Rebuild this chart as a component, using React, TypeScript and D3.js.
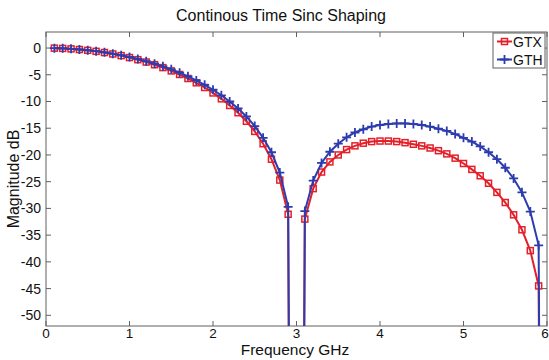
import React from "react";
import * as d3 from "d3";

const title = "Continous Time Sinc Shaping";
const xLabel = "Frequency GHz";
const yLabel = "Magnitude dB";

const freq = [
  0.1, 0.2, 0.3, 0.4, 0.5, 0.6, 0.7, 0.8, 0.9, 1.0,
  1.1, 1.2, 1.3, 1.4, 1.5, 1.6, 1.7, 1.8, 1.9, 2.0,
  2.1, 2.2, 2.3, 2.4, 2.5, 2.6, 2.7, 2.8, 2.9, 3.0,
  3.1, 3.2, 3.3, 3.4, 3.5, 3.6, 3.7, 3.8, 3.9, 4.0,
  4.1, 4.2, 4.3, 4.4, 4.5, 4.6, 4.7, 4.8, 4.9, 5.0,
  5.1, 5.2, 5.3, 5.4, 5.5, 5.6, 5.7, 5.8, 5.9, 6.0,
];

const gtx = [
  -0.02, -0.07, -0.16, -0.28, -0.43, -0.62, -0.84, -1.11, -1.42, -1.78,
  -2.18, -2.62, -3.12, -3.66, -4.28, -4.95, -5.7, -6.5, -7.38, -8.4,
  -9.5, -10.75, -12.1, -13.7, -15.6, -17.9, -20.8, -24.7, -31.1, -320,
  -32.0, -26.3, -23.2, -21.3, -20.0, -19.0, -18.3, -17.8, -17.5, -17.4,
  -17.4, -17.5, -17.7, -18.0, -18.3, -18.7, -19.2, -19.8, -20.6, -21.6,
  -22.7, -23.9, -25.3, -27.0, -28.9, -31.2, -34.0, -37.9, -44.5, -320,
];

const gth = [
  -0.02, -0.06, -0.15, -0.26, -0.41, -0.59, -0.8, -1.06, -1.35, -1.68,
  -2.05, -2.46, -2.92, -3.43, -3.99, -4.61, -5.3, -6.05, -6.88, -7.8,
  -8.84, -10.0, -11.3, -12.8, -14.6, -16.8, -19.5, -23.3, -29.7, -320,
  -30.5, -24.8, -21.5, -19.4, -17.9, -16.7, -15.8, -15.2, -14.7, -14.4,
  -14.2, -14.1, -14.1, -14.2, -14.4, -14.7, -15.1, -15.5, -16.1, -16.8,
  -17.5, -18.4, -19.5, -20.8, -22.4, -24.4, -27.0, -30.6, -36.9, -320,
];

const xTicks = [0, 1, 2, 3, 4, 5, 6];
const yTicks = [0, -5, -10, -15, -20, -25, -30, -35, -40, -45, -50];
const seriesNames = ["GTX", "GTH"];

const W = 549;
const H = 360;
const L = 46;
const R = 547;
const T = 32;
const B = 326;
const RED = "#e3202a";
const BLUE = "#2c3cae";
const AXIS = "#606060";
const FONT = "'Liberation Sans', Arial, Helvetica, sans-serif";

export default function App() {
  const x = d3.scaleLinear().domain([0, 6]).range([L, R]);
  const y = d3.scaleLinear().domain([-52, 3]).range([B, T]);

  const mk = (vals: number[]) =>
    d3
      .line<number>()
      .x((_, i) => x(freq[i]))
      .y((v) => y(v))(vals) || "";

  const visible = (v: number) => v >= -52 && v <= 3;

  return (
    <svg
      width={W}
      height={H}
      style={{ position: "absolute", left: 0, top: 0, background: "#fff" }}
      fontFamily={FONT}
    >
      <defs>
        <clipPath id="plotclip">
          <rect x={L} y={T} width={R - L} height={B - T} />
        </clipPath>
      </defs>
      <rect x={0} y={0} width={W} height={H} fill="#fff" />

      <text x={281} y={21} textAnchor="middle" fontSize={16} fill="#111">
        {title}
      </text>

      {/* frame */}
      <rect x={L} y={T} width={R - L} height={B - T} fill="none" stroke={AXIS} strokeWidth={1} />

      {/* x ticks */}
      {xTicks.map((t) => (
        <g key={"x" + t}>
          <line x1={x(t)} x2={x(t)} y1={B} y2={B - 5} stroke={AXIS} />
          <line x1={x(t)} x2={x(t)} y1={T} y2={T + 5} stroke={AXIS} />
          <text x={t === 6 ? x(t) - 2 : x(t)} y={338} textAnchor="middle" fontSize={13.5} fill="#111">
            {t}
          </text>
        </g>
      ))}
      {/* y ticks */}
      {yTicks.map((t) => (
        <g key={"y" + t}>
          <line x1={L} x2={L + 5} y1={y(t)} y2={y(t)} stroke={AXIS} />
          <line x1={R} x2={R - 5} y1={y(t)} y2={y(t)} stroke={AXIS} />
          <text x={41} y={y(t) + 5} textAnchor="end" fontSize={14} fill="#111">
            {t}
          </text>
        </g>
      ))}

      <text x={295} y={355} textAnchor="middle" fontSize={15.5} fill="#111">
        {xLabel}
      </text>
      <text
        transform={`translate(19, ${(T + B) / 2}) rotate(-90)`}
        textAnchor="middle"
        fontSize={16}
        fill="#111"
      >
        {yLabel}
      </text>

      <g clipPath="url(#plotclip)">
        <path d={mk(gtx)} fill="none" stroke={RED} strokeWidth={2} />
        {gtx.map((v, i) =>
          visible(v) ? (
            <rect
              key={"r" + i}
              x={x(freq[i]) - 3}
              y={y(v) - 3}
              width={6}
              height={6}
              fill="none"
              stroke={RED}
              strokeWidth={1.5}
            />
          ) : null
        )}
        <path d={mk(gth)} fill="none" stroke={BLUE} strokeWidth={2} />
        {gth.map((v, i) =>
          visible(v) ? (
            <path
              key={"b" + i}
              d={`M${x(freq[i]) - 4.5},${y(v)}h9M${x(freq[i])},${y(v) - 4.5}v9`}
              stroke={BLUE}
              strokeWidth={1.8}
              fill="none"
            />
          ) : null
        )}
      </g>

      {/* legend */}
      <g>
        <rect x={493} y={33} width={52} height={35} fill="#fff" stroke={AXIS} strokeWidth={1} />
        <line x1={497} x2={512} y1={41.5} y2={41.5} stroke={RED} strokeWidth={2} />
        <rect x={501.5} y={38.5} width={6} height={6} fill="none" stroke={RED} strokeWidth={1.5} />
        <text x={513} y={46.5} fontSize={14} fill="#111">
          {seriesNames[0]}
        </text>
        <line x1={497} x2={512} y1={59.5} y2={59.5} stroke={BLUE} strokeWidth={2} />
        <path d={`M500,59.5h9M504.5,55v9`} stroke={BLUE} strokeWidth={1.8} fill="none" />
        <text x={513} y={64.5} fontSize={14} fill="#111">
          {seriesNames[1]}
        </text>
      </g>
    </svg>
  );
}
